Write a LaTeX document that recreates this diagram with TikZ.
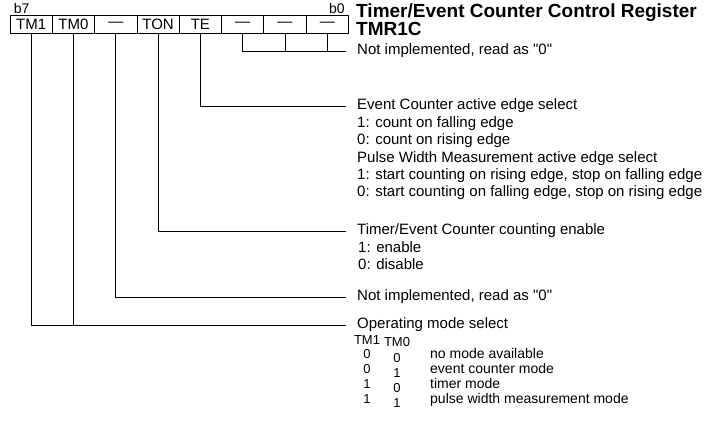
\documentclass[tikz,border=0pt]{standalone}
\usepackage{fontspec}
\setmainfont{Liberation Sans}[Ligatures=TeXOff]
\usetikzlibrary{positioning}
\tikzstyle{regbit} = [draw, line width=0.8pt, minimum width=42.3pt, minimum height=18pt,
    inner sep=0pt, font=\fontsize{15}{16}\selectfont]
\tikzstyle{desc} = [anchor=west, inner xsep=11pt, inner ysep=0pt, font=\fontsize{15}{17}\selectfont]
\tikzstyle{subdesc} = [desc, align=left]
\tikzstyle{tabtxt} = [inner sep=0pt, align=center, font=\fontsize{13}{15}\selectfont]
\tikzstyle{bitline} = [draw, line width=0.8pt]

\begin{document}
\begin{tikzpicture}[x=1pt, y=-1pt, node distance=42.3pt]
    \useasboundingbox (0,0) rectangle (706,421);
    % register cells, b7 ... b0
    \node [regbit] (tmone) at (31.15,24) {TM1};
    \node [regbit, right of=tmone] (tmzero) {TM0};
    \node [regbit, right of=tmzero] (bfive) {\textemdash};
    \node [regbit, right of=bfive] (ton) {TON};
    \node [regbit, right of=ton] (te) {TE};
    \node [regbit, right of=te] (btwo) {\textemdash};
    \node [regbit, right of=btwo] (bone) {\textemdash};
    \node [regbit, right of=bone] (bzero) {\textemdash};
    \node [anchor=south west, inner sep=1pt, font=\fontsize{14}{16}\selectfont] (lblseven) at ([xshift=3pt]tmone.north west) {b7};
    \node [anchor=south east, inner sep=1pt, font=\fontsize{14}{16}\selectfont] (lblzero) at ([xshift=-3pt]bzero.north east) {b0};
    \node [anchor=north west, align=left, inner sep=0pt, font=\bfseries\fontsize{19}{18}\selectfont] (title) at (356,4) {Timer/Event Counter Control Register\\TMR1C};
    % bit descriptions
    \node [desc] (nilow) at (346,51) {Not implemented, read as "0"};
    \node [desc] (edge) at (346,106) {Event Counter active edge select};
    \node [subdesc, below right=3pt and 0pt of edge.south west] (edgeval) {1: count on falling edge\\0: count on rising edge\\[1pt]
        Pulse Width Measurement active edge select\\1: start counting on rising edge, stop on falling edge\\0: start counting on falling edge, stop on rising edge};
    \node [desc] (count) at (346,231) {Timer/Event Counter counting enable};
    \node [subdesc, below right=3pt and 1pt of count.south west] (countval) {1: enable\\0: disable};
    \node [desc] (nihigh) at (346,297) {Not implemented, read as "0"};
    \node [desc] (mode) at (346,325) {Operating mode select};
    % mode table
    \node [tabtxt] (hdone) at (367,340) {TM1};
    \node [tabtxt] (hdzero) at (397,342) {TM0};
    \node [tabtxt] (colone) at (367,376) {0\\0\\1\\1};
    \node [tabtxt] (colzero) at (397,380) {0\\1\\0\\1};
    \node [tabtxt, anchor=west, align=left, font=\fontsize{14}{15}\selectfont] (modes) at (430,377) {no mode available\\event counter mode\\timer mode\\pulse width measurement mode};
    % connectors
    \path [bitline] (btwo.south) |- (nilow.west);
    \path [bitline] (bone.south) -- (bone.south |- nilow.west);
    \path [bitline] (bzero.south) -- (bzero.south |- nilow.west);
    \path [bitline] (te.south) |- (edge.west);
    \path [bitline] (ton.south) |- (count.west);
    \path [bitline] (bfive.south) |- (nihigh.west);
    \path [bitline] (tmone.south) |- (mode.west);
    \path [bitline] (tmzero.south) -- (tmzero.south |- mode.west);
\end{tikzpicture}
\end{document}
